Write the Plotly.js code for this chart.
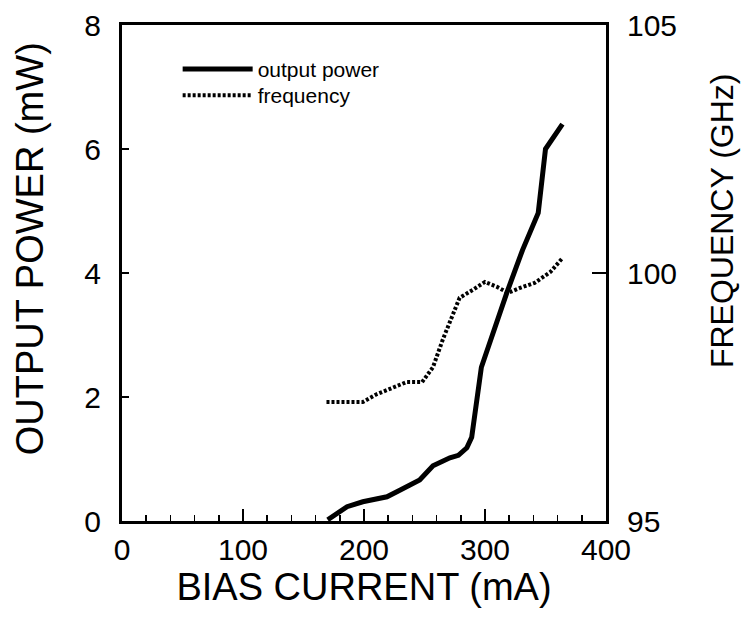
<!DOCTYPE html>
<html>
<head>
<meta charset="utf-8">
<script src="https://cdn.plot.ly/plotly-3.0.1.min.js"></script>
<style>html,body{margin:0;padding:0;background:#fff;}#chart{width:744px;height:627px;}</style>
</head>
<body>
<div id="chart"></div>
<script>
// Bias current (mA) and output power (mW)
var powerCurrent = [170, 186, 199, 219, 230, 246, 257, 271, 278, 285, 289, 297, 318, 331, 344, 350, 364];
var powerValues  = [0.02, 0.23, 0.31, 0.39, 0.5, 0.66, 0.89, 1.02, 1.06, 1.18, 1.35, 2.48, 3.68, 4.37, 4.97, 6.0, 6.4];
// Bias current (mA) and frequency (GHz)
var freqCurrent = [169, 199, 210, 235, 248, 257, 265, 273, 279, 290, 300, 310, 319, 329, 341, 354, 364];
var freqValues  = [97.4, 97.4, 97.55, 97.8, 97.8, 98.1, 98.65, 99.11, 99.5, 99.66, 99.82, 99.72, 99.6, 99.7, 99.8, 100.02, 100.3];
var seriesNames = ["output power", "frequency"];
var xTicks = [0, 100, 200, 300, 400];
var yTicks = [0, 2, 4, 6, 8];
var y2Ticks = [95, 100, 105];

var FONT = "Liberation Sans, Arial, Helvetica, sans-serif";
var legendFont = {size: 21, family: FONT, color: "#000"};

var traces = [
  {x: powerCurrent, y: powerValues, name: seriesNames[0], type: "scatter", mode: "lines",
   line: {color: "#000", width: 5}, yaxis: "y", legend: "legend"},
  {x: freqCurrent, y: freqValues, name: seriesNames[1], type: "scatter", mode: "lines",
   line: {color: "#000", width: 4, dash: "3px,2px"}, yaxis: "y2", legend: "legend2"}
];

var layout = {
  width: 744, height: 627,
  margin: {l: 122, r: 138, t: 25, b: 106},
  paper_bgcolor: "#fff", plot_bgcolor: "#fff",
  font: {family: FONT, color: "#000"},
  showlegend: true,
  legend: {x: 0.115, y: 0.952, xanchor: "left", yanchor: "top", bgcolor: "rgba(0,0,0,0)",
           font: legendFont, itemwidth: 70},
  legend2: {x: 0.115, y: 0.899, xanchor: "left", yanchor: "top", bgcolor: "rgba(0,0,0,0)",
           font: legendFont, itemwidth: 70},
  xaxis: {range: [0, 400], tickvals: xTicks, ticks: "inside", ticklen: 12, tickwidth: 1.5, tickcolor: "#000",
          showline: true, linewidth: 3, linecolor: "#000", mirror: true, showgrid: false, zeroline: false,
          tickfont: {size: 30, family: FONT, color: "#000"}, ticklabelstandoff: 0,
          minor: {dtick: 20, ticks: "inside", ticklen: 6, tickwidth: 1.5, tickcolor: "#000", showgrid: false},
          title: {text: "BIAS CURRENT (mA)", font: {size: 38, family: FONT, color: "#000"}, standoff: 0}},
  yaxis: {range: [0, 8], tickvals: yTicks, ticks: "inside", ticklen: 7, tickwidth: 1.5, tickcolor: "#000",
          showline: true, linewidth: 3, linecolor: "#000", showgrid: false, zeroline: false,
          tickfont: {size: 30, family: FONT, color: "#000"}, ticklabelstandoff: 12},
  yaxis2: {range: [95, 105], tickvals: y2Ticks, overlaying: "y", side: "right", ticks: "inside", ticklen: 14,
           tickwidth: 1.5, tickcolor: "#000", showline: true, linewidth: 3, linecolor: "#000",
           showgrid: false, zeroline: false, tickfont: {size: 30, family: FONT, color: "#000"}, ticklabelstandoff: 12},
  annotations: [
    {text: "OUTPUT POWER (mW)", textangle: -90, xref: "paper", yref: "paper", x: -0.19, y: 0.548,
     xanchor: "center", yanchor: "middle", showarrow: false, font: {size: 38, family: FONT, color: "#000"}},
    {text: "FREQUENCY (GHz)", textangle: -90, xref: "paper", yref: "paper", x: 1.24, y: 0.605,
     xanchor: "center", yanchor: "middle", showarrow: false, font: {size: 32, family: FONT, color: "#000"}}
  ]
};

Plotly.newPlot("chart", traces, layout, {displayModeBar: false, staticPlot: true});
</script>
</body>
</html>
